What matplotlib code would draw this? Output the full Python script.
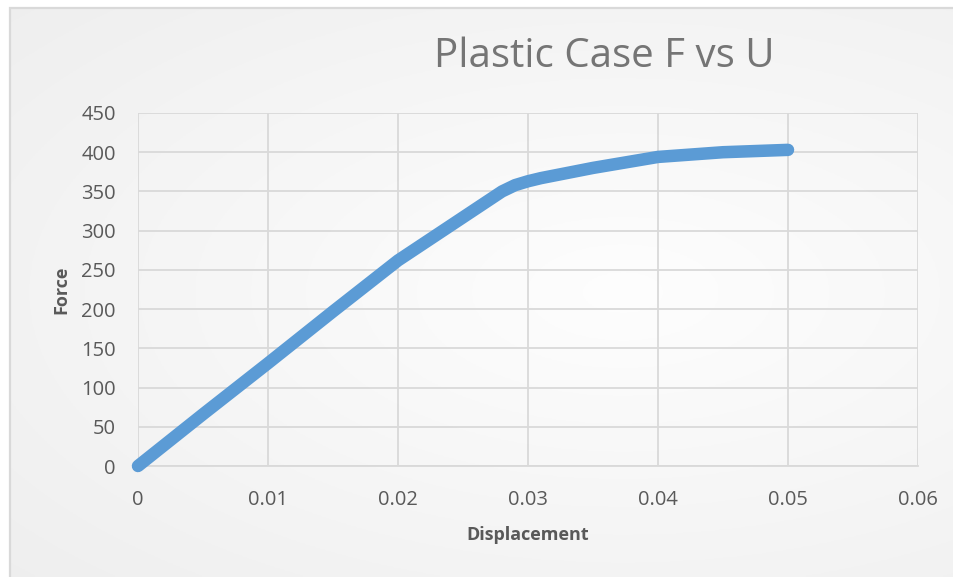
import numpy as np
import matplotlib.pyplot as plt
from matplotlib.patches import Rectangle

# data
displacement = [0.0, 0.005, 0.01, 0.015, 0.02, 0.025, 0.027, 0.028, 0.029, 0.03,
                0.031, 0.035, 0.04, 0.045, 0.05]
force = [0, 66, 131, 197, 262, 317, 339, 350, 358, 363, 367, 380, 394, 400, 403]

x_ticks = [0, 0.01, 0.02, 0.03, 0.04, 0.05, 0.06]
x_labels = ["0", "0.01", "0.02", "0.03", "0.04", "0.05", "0.06"]
y_ticks = [0, 50, 100, 150, 200, 250, 300, 350, 400, 450]

plt.rcParams['font.family'] = ['Open Sans', 'DejaVu Sans']

fig = plt.figure(figsize=(9.54, 5.77), dpi=100)
fig.patch.set_facecolor('white')

# soft gray background like the Excel chart area
bg = fig.add_axes([0, 0, 1, 1], zorder=-10)
yy, xx = np.mgrid[0:1:200j, 0:1:300j]
dist = np.sqrt(((xx - 0.65) / 1.2) ** 2 + ((yy - 0.5) / 1.0) ** 2)
level = np.clip(0.995 - 0.08 * dist, 0, 1)
rgb = np.dstack([level, level, level])
bg.imshow(rgb, extent=[10 / 954, 1, 0, 1 - 8 / 577], aspect='auto', origin='lower')
bg.add_patch(Rectangle((10 / 954, -0.01), 1.02, 1 - 8 / 577 + 0.01,
                       facecolor='none', edgecolor='#d9d9d9', lw=1.6))
bg.set_xlim(0, 1)
bg.set_ylim(0, 1)
bg.axis('off')

ax = fig.add_axes([138 / 954, 1 - 466 / 577, (918 - 138) / 954, (466 - 113) / 577])
ax.set_facecolor('none')

ax.plot(displacement, force, color='#5b9bd5', lw=9, solid_capstyle='round',
        solid_joinstyle='round', zorder=3, clip_on=False)

ax.set_xlim(0, 0.06)
ax.set_ylim(0, 450)
ax.set_xticks(x_ticks)
ax.set_xticklabels(x_labels)
ax.set_yticks(y_ticks)
ax.grid(True, color='#d9d9d9', lw=1.3)
ax.tick_params(length=0, labelsize=14.5, labelcolor='#595959')
ax.tick_params(axis='x', pad=17)
ax.tick_params(axis='y', pad=16)
for s in ['top', 'right', 'left']:
    ax.spines[s].set_visible(False)
ax.spines['bottom'].set_color('#d9d9d9')
ax.spines['bottom'].set_linewidth(1.3)

ax.set_xlabel('Displacement', fontsize=13, fontweight='bold', color='#595959', labelpad=12)
ax.set_ylabel('Force', fontsize=13, fontweight='bold', color='#595959', labelpad=8)

fig.text(604 / 954, 1 - 57 / 577, 'Plastic Case F vs U', fontsize=29,
         color='#757575', ha='center', va='center')

fig.savefig('out.png', dpi=100)
